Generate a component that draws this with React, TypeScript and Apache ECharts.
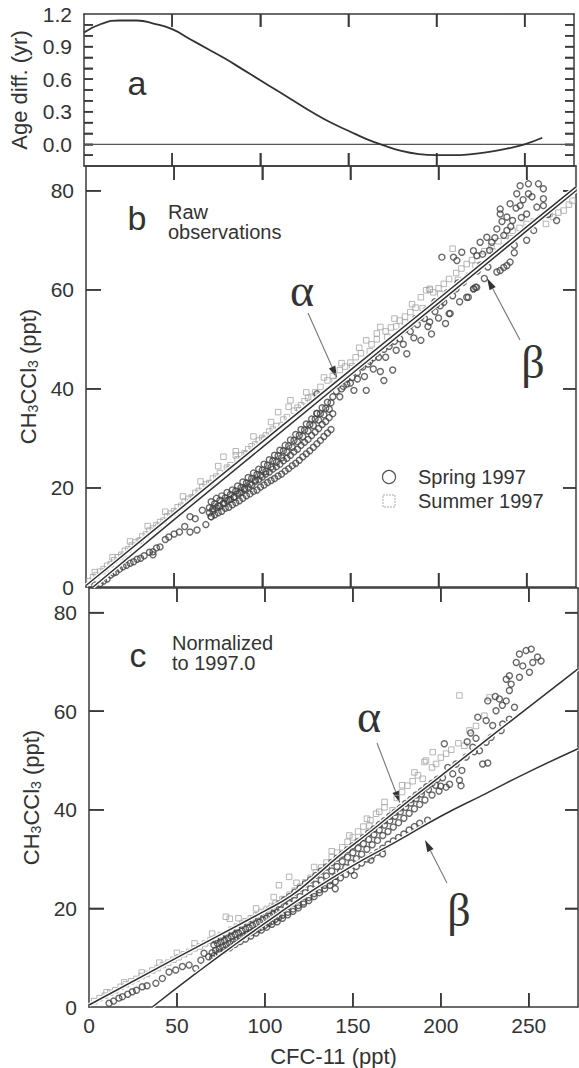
import React, { useEffect, useRef } from "react";
import * as echarts from "echarts";

// ---------- DATA ----------
// Panel a: age difference curve (x = CFC-11 ppt, y = years)
const ageCurve: number[][] = [
  [0, 1.03], [10, 1.11], [20, 1.14], [30, 1.14], [40, 1.11], [50, 1.06], [60, 0.97],
  [70, 0.88], [80, 0.79], [90, 0.69], [100, 0.59], [110, 0.49], [120, 0.39], [130, 0.29],
  [140, 0.2], [150, 0.125], [160, 0.05], [170, -0.01], [180, -0.06], [190, -0.09],
  [200, -0.1], [210, -0.1], [220, -0.09], [230, -0.07], [240, -0.04], [250, 0.0], [260, 0.06],
];
const zeroLine: number[][] = [[0, 0], [278, 0]];

// Panel b: raw observations
const summerB: number[][] = [
  [2, 1.2], [4, 2.0], [6, 2.4], [8, 3.1], [10, 3.6], [12, 4.3], [14, 4.6], [16, 5.4], [18, 6.0], [20, 6.5],
  [22, 7.3], [24, 7.6], [26, 8.4], [28, 9.0], [30, 9.3], [32, 10.2], [34, 10.6], [36, 11.4], [38, 11.8],
  [40, 12.5], [42, 13.1], [44, 13.4], [46, 14.3], [48, 14.8], [50, 15.3], [52, 16.1], [54, 16.4], [56, 17.2],
  [58, 17.8], [60, 18.1], [62, 19.0], [64, 19.4], [66, 20.2], [68, 20.7], [70, 21.0], [72, 21.9], [74, 22.3],
  [76, 23.0], [78, 26.3], [80, 24.1], [82, 24.6], [85, 26.6], [86, 25.8], [88, 26.6], [90, 27.0], [92, 27.8],
  [94, 28.4], [96, 28.8], [98, 29.6], [100, 30.1], [102, 30.6], [104, 31.4], [106, 31.8], [108, 32.5],
  [109, 35.3], [112, 33.8], [114, 34.3], [116, 37.7], [118, 35.6], [120, 36.2], [122, 36.7], [124, 37.5],
  [126, 38.2], [128, 38.4], [130, 39.3], [133, 40.4], [137, 41.7], [140, 42.6], [144, 43.8], [147, 44.5],
  [150, 45.3], [153, 46.4], [156, 47.2], [159, 49.8], [162, 49.0], [165, 50.0], [167, 52.5], [170, 51.6],
  [173, 52.4], [176, 52.6], [178, 53.8], [181, 54.6], [184, 55.5], [187, 56.4], [190, 58.5], [193, 59.9],
  [195, 60.2], [197, 59.5], [200, 60.3], [203, 61.2], [206, 62.2], [208, 68.3], [210, 63.4], [213, 64.3],
  [216, 65.2], [219, 66.0], [222, 66.9], [226, 67.8], [230, 68.8], [234, 69.8], [238, 70.9], [242, 71.9],
  [246, 72.5], [250, 73.3], [254, 73.8], [258, 74.6], [261, 73.3], [263, 75.3], [265, 74.7], [268, 75.6],
  [271, 76.0], [274, 77.2], [276, 78.0],
  [11, 3.2], [21, 6.2], [31, 9.4], [41, 12.2], [51, 15.0], [61, 17.9], [71, 20.9], [81, 23.8], [91, 26.8],
  [101, 29.8], [111, 32.6], [121, 35.7], [131, 38.6], [141, 41.6], [151, 44.6], [161, 47.6], [171, 50.5],
  [181, 53.4], [191, 56.3], [201, 59.2], [211, 62.0], [221, 64.9], [231, 67.7], [241, 70.4], [251, 72.6],
  [5, 3.0], [15, 6.0], [25, 9.2], [35, 12.3], [45, 15.2], [55, 18.3], [65, 21.3], [75, 24.4], [85, 27.4],
  [95, 30.4], [105, 33.3], [115, 36.4], [125, 39.3], [135, 42.3], [145, 45.2], [155, 48.3], [165, 51.2],
  [175, 54.2], [185, 57.1], [195, 60.0],
];
const springB: number[][] = [
  [5, 0.4], [8, 0.7], [10, 1.2], [12, 1.6], [14, 2.4], [15.5, 2.8], [17, 3.0], [19, 3.6], [21, 4.1], [23, 4.4],
  [25, 4.8], [27, 5.1], [29, 5.6], [31, 5.8], [33, 6.3], [36, 7.0], [38, 6.5], [38, 7.1], [40, 7.9], [42, 8.1],
  [45, 9.6], [47, 10.1], [50, 10.7], [53, 11.1], [56, 12.2], [59, 11.1], [59, 14.2], [62, 13.8], [63, 11.5],
  [66, 15.5], [68, 12.6], [71, 14.2],
  [70, 16.0], [71, 17.2], [72, 15.8], [73, 16.8], [74, 17.9], [75, 16.4], [76, 17.5], [77, 18.4], [78, 16.9],
  [79, 18.0], [80, 19.1], [81, 17.6], [82, 18.7], [83, 19.6], [84, 18.2], [85, 19.4], [86, 20.4], [87, 19.0],
  [88, 20.1], [89, 21.2], [90, 19.9], [91, 21.0], [92, 22.1], [93, 20.8], [94, 21.9], [95, 23.0], [96, 21.6],
  [97, 22.7], [98, 23.8], [99, 22.5], [100, 23.6], [101, 24.8], [102, 23.3], [103, 24.6], [104, 25.7],
  [105, 24.2], [106, 25.5], [107, 26.6], [108, 25.2], [109, 26.5], [110, 27.6], [111, 26.1], [112, 27.5],
  [113, 28.6], [114, 27.2], [115, 28.5], [116, 29.7], [117, 28.2], [118, 29.6], [119, 30.8], [120, 29.3],
  [121, 30.6], [122, 31.8], [123, 30.4], [124, 31.7], [125, 32.9], [126, 31.5], [127, 32.8], [128, 33.9],
  [129, 32.6], [130, 33.9], [131, 35.1], [132, 33.7], [133, 35.0], [134, 36.2], [135, 34.8], [136, 36.1],
  [137, 37.3], [138, 35.9], [139, 37.2], [140, 38.4],
  [70, 15.0], [72, 15.4], [74, 16.0], [76, 16.3], [78, 16.8], [80, 17.4], [82, 17.7], [84, 18.1], [86, 18.8],
  [88, 19.2], [90, 19.7], [92, 20.2], [94, 20.6], [96, 21.3], [98, 21.7], [100, 22.2], [102, 22.8], [104, 23.2],
  [106, 23.8], [108, 24.3], [110, 24.8], [112, 25.5], [114, 26.0], [116, 26.6], [118, 27.3], [120, 27.8],
  [122, 28.6], [124, 29.2], [126, 29.8], [128, 30.6], [130, 31.3], [132, 32.0], [134, 32.8], [136, 33.4],
  [138, 34.2], [140, 35.0],
  [71, 14.2], [73, 14.6], [75, 15.0], [77, 15.3], [79, 15.9], [81, 16.1], [83, 16.6], [85, 17.0], [87, 17.4],
  [89, 17.9], [91, 18.4], [93, 18.8], [95, 19.3], [97, 19.6], [99, 20.2], [101, 20.6], [103, 21.1], [105, 21.5],
  [107, 21.9], [109, 22.4], [111, 22.8], [113, 23.4], [115, 23.9], [117, 24.5], [119, 25.0], [121, 25.6],
  [123, 26.3], [125, 26.9], [127, 27.5], [129, 28.2], [131, 28.9], [133, 29.6], [135, 30.4], [137, 31.1],
  [139, 31.8],
  [142, 39.5], [145, 40.0], [148, 41.0], [151, 42.3], [154, 42.0], [157, 44.4], [160, 45.0], [163, 46.3],
  [166, 46.4], [169, 48.0], [172, 49.3], [175, 49.6], [178, 51.3], [181, 52.0], [184, 52.9], [187, 54.2],
  [190, 54.5], [193, 55.9], [196, 56.3], [199, 57.1], [202, 58.0], [205, 59.4], [208, 60.0], [211, 61.4],
  [131, 35], [131, 39], [144, 38.4], [146, 40.5], [148, 42.0], [150, 41.2], [152, 39.7], [154, 43.3],
  [156, 44.6], [158, 42.5], [159, 39.7], [161, 45.6], [163, 44.0], [165, 47.2], [167, 43.5], [169, 41.7],
  [170, 46.4], [172, 48.6], [174, 43.8], [176, 47.8], [178, 50.1], [180, 49.0], [182, 47.1], [184, 51.6],
  [186, 50.3], [188, 53.0], [190, 49.8], [192, 54.2], [194, 52.6], [196, 51.1], [198, 55.6], [200, 54.3],
  [201, 56.8], [203, 57.5], [204, 53.2], [206, 55.2], [208, 58.8], [210, 60.2], [212, 57.6], [214, 61.5],
  [216, 58.5], [217, 62.8], [220, 60.2], [221, 60.5], [222, 63.8], [224, 65.0], [226, 62.3], [228, 64.6],
  [201.9, 66.6], [208.5, 66.6], [210.4, 65.9], [213.2, 67.6], [219.8, 67.9], [221.7, 66.9], [223.6, 69.6],
  [227.4, 70.6], [230.2, 69.6], [233.1, 72.3], [235, 76.3], [235, 75.3], [238.8, 74.7], [238.8, 72],
  [240.6, 77.4], [244.4, 79.4], [246.3, 77], [246.3, 81], [250, 75.3], [250, 70], [251, 79.4], [251, 81.4],
  [255.8, 76.7], [256.7, 81.4], [259.5, 80.4], [259.5, 77], [259.5, 78.4], [242, 74.0], [237, 71.0],
  [244, 76.5], [248, 78.2], [253, 78.8], [232, 70.5], [229, 68.0], [225, 67.2], [236, 73.8], [241, 72.8],
  [247, 74.6], [243, 69.0],
  [233.1, 63.6], [235, 63.9], [238.8, 64.9], [240.6, 65.6], [237, 64.5], [221.7, 60.5], [219.8, 60.2],
  [216.9, 58.5], [206.6, 55.2], [195, 53.5], [198, 57.6], [243, 67.5], [254, 72.0], [262, 75.2], [267, 74.0],
];
const alphaB: number[][] = [[0, 0.3], [50, 14.8], [100, 29.3], [150, 43.8], [200, 58.2], [250, 72.7], [278, 80.8]];
const betaB: number[][] = [[4, 0], [50, 13.6], [100, 28.2], [150, 42.8], [200, 57.3], [250, 71.9], [278, 80.0]];

// Panel c: normalized to 1997.0
const summerC: number[][] = [
  [3, 1.2], [6, 1.8], [9, 2.3], [12, 2.9], [15, 3.4], [18, 4.1], [21, 4.6], [24, 5.2], [27, 5.7], [30, 6.3],
  [33, 6.7], [36, 7.4], [39, 7.9], [42, 8.5], [45, 9.0], [48, 9.6], [51, 10.1], [54, 10.7], [57, 11.2],
  [60, 11.9], [63, 12.3], [66, 12.9], [69, 13.5], [72, 14.0], [75, 14.6], [77.8, 18.3], [80, 17.9], [81, 15.7],
  [84, 16.3], [87, 16.9], [89, 17.4], [92, 18.0], [95, 18.6], [98, 19.3], [101, 19.9], [104, 20.5], [106, 21.0],
  [108, 24.7], [110, 21.9], [113.8, 26.4], [114, 22.8], [117, 23.6], [120, 24.4], [123, 25.3], [126, 26.2],
  [129, 27.3], [132, 28.3], [135, 29.3], [138, 30.4], [141, 31.3], [144, 32.4], [147, 33.5], [150, 34.4],
  [153, 35.6], [156, 36.6], [159.4, 36.8], [160, 37.9], [163.2, 39.2], [165, 39.6], [168, 40.5], [172.6, 39.9],
  [175, 42.4], [178, 43.6], [181, 44.9], [184, 45.8], [187, 47.0], [189.7, 46.3], [190.7, 49.7], [191.6, 50],
  [195.4, 51.7], [197.3, 49.3], [195, 48.6], [200, 50.6], [203, 51.4], [206, 52.2], [210, 53.5], [213.4, 53],
  [216.3, 56.1], [220, 57.0], [224.8, 59.1], [227.7, 62.8], [210.6, 63.2],
  [10, 3.0], [20, 5.0], [30, 7.0], [40, 9.0], [50, 11.0], [60, 12.9], [70, 14.9], [85, 18.0], [95, 20.0],
  [105, 22.3], [118, 25.2], [128, 28.4], [138, 31.6], [148, 34.8], [158, 38.2], [168, 41.6], [178, 45.0],
  [185, 47.6],
];
const springC: number[][] = [
  [11.4, 0.75], [14, 1.2], [17, 1.8], [19, 2.1], [22, 2.6], [24.6, 3.1], [27, 3.4], [30.3, 4.1], [33, 4.3],
  [38, 4.8], [41.7, 5.8], [45.5, 7.1], [49.3, 7.5], [53.1, 8.2], [56.9, 8.5], [60.7, 7.8], [63.6, 9.5],
  [65.4, 10.9], [68, 10.2], [70.2, 9.9],
  [70, 11.0], [71, 12.6], [72, 11.5], [73, 12.9], [74, 11.8], [75, 13.2], [76, 12.2], [77, 13.5], [78, 12.6],
  [79, 14.0], [80, 12.9], [81, 14.3], [82, 13.3], [83, 14.7], [84, 13.6], [85, 15.0], [86, 14.1], [87, 15.4],
  [88, 14.4], [89, 15.8], [90, 14.8], [91, 16.1], [92, 15.1], [93, 16.5], [94, 15.5], [95, 16.9], [96, 15.8],
  [97, 17.2], [98, 16.2], [99, 17.6], [100, 16.6], [101, 18.0], [102, 17.0], [103, 18.4], [104, 17.4],
  [105, 18.8], [106, 17.8], [107, 19.2], [108, 18.2], [109, 19.7], [110, 18.6], [112, 20.4], [113, 19.2],
  [114, 21.0], [116, 19.9], [117, 21.6], [119, 20.6], [120, 22.4], [122, 21.3], [123, 23.2], [125, 22.2],
  [126, 24.0], [128, 23.0], [129, 24.9], [131, 23.8], [132, 25.7], [134, 24.7], [135, 26.6], [137, 25.6],
  [138, 27.6], [140, 24.0], [140, 26.5], [141, 28.5], [143, 27.4], [144, 29.5], [146, 28.3], [147, 30.4],
  [149, 29.2], [150.8, 26.7], [150, 31.3], [152, 30.1], [153, 32.2], [155, 31.0], [156, 33.1], [158, 32.0],
  [159, 34.0], [160.3, 29.8], [161, 32.9], [162, 35.0], [164, 33.8], [165, 35.9], [166.9, 31.1], [167, 34.8],
  [168, 36.9], [170, 35.6], [171, 37.8], [173, 36.5], [174, 38.7], [176, 37.4], [177, 39.6], [179, 38.3],
  [180, 40.5], [182, 39.3], [183, 41.4], [185, 40.2], [186, 42.3], [188, 41.1], [189, 43.2], [191, 42.0],
  [192.5, 37.9], [193, 44.1], [195, 43.0], [197, 45.0], [199, 43.8],
  [71, 10.4], [74, 11.0], [77, 11.5], [80, 12.0], [83, 12.7], [86, 13.3], [89, 13.8], [92, 14.4], [95, 15.0],
  [98, 15.6], [101, 16.2], [104, 16.8], [107, 17.3], [110, 18.0], [113, 18.7], [116, 19.4], [119, 20.1],
  [122, 20.9], [125, 21.6], [128, 22.4], [131, 23.2], [134, 24.0], [137, 24.7], [140, 25.4], [143, 26.2],
  [146, 26.9], [149, 27.7], [152, 28.5], [155, 29.2], [158, 30.0], [161, 30.7], [164, 31.4], [167, 32.2],
  [170, 33.0], [173, 33.7], [176, 34.4], [179, 35.1], [182, 35.9], [185, 36.6], [188, 37.3],
  [72, 13.6], [75, 14.2], [78, 14.8], [81, 15.4], [84, 16.0], [87, 16.6], [90, 17.2], [93, 17.8], [96, 18.4],
  [99, 19.0], [102, 19.6], [105, 20.2], [108, 20.9], [111, 21.7], [114, 22.4], [117, 23.3], [120, 24.1],
  [123, 25.0], [126, 25.8], [129, 26.7], [132, 27.6], [135, 28.4], [138, 29.3], [141, 30.2], [144, 31.0],
  [147, 31.9], [150, 32.7], [153, 33.6], [156, 34.4], [159, 35.3], [162, 36.1], [165, 37.0], [168, 37.8],
  [171, 38.7], [174, 39.5], [177, 40.4], [180, 41.3], [183, 42.1], [186, 43.0], [189, 43.8], [192, 44.7],
  [195, 45.4], [198, 46.2],
  [248.5, 72.3], [251.4, 72.6], [244.7, 71.6], [242.9, 69.9], [246.6, 69.2], [252.3, 69.9], [257, 70.2],
  [255, 71.0], [250.4, 67.9], [244.7, 66.9], [239, 67.2], [237.2, 66.5], [240, 65.5], [239, 64.2],
  [233.3, 62.5], [231, 63.0], [237.2, 62.1], [241.9, 60.8], [235, 61.2], [226.7, 62.1], [231.4, 60.1],
  [221, 58.8], [225.8, 58.1], [229.5, 57.1], [235.2, 57.4], [239, 58.4], [234.3, 56.1], [228.6, 54.7],
  [225.8, 53.7], [202, 53.4], [223.8, 49.3], [226.7, 49.5], [222, 52], [218.2, 52.7], [214.4, 50.7],
  [219, 51.8], [220, 54.5], [210.6, 46], [211.5, 44.9], [206.8, 47.3], [203, 44.6], [208.7, 49.3],
  [201, 46.5], [204, 48.6], [212, 48.0], [215, 53.8], [217, 55.6], [205, 45.2], [200, 44.8],
];
const alphaC: number[][] = [
  [0, 0.4], [50, 10.0], [100, 19.5], [115, 22.6], [128, 26.3], [142, 30.6], [160, 35.6], [176, 40.2],
  [199, 46.6], [230, 55.3], [278, 68.6],
];
const betaC: number[][] = [
  [36, 0], [60, 6.6], [80, 11.9], [108, 19], [130, 24.3], [150, 28.7], [175, 33.6], [200, 38.7],
  [225, 43.2], [250, 47.7], [278, 52.4],
];

// Axis ranges, ticks and labels
const xRange = [0, 278];
const xTicks = [50, 100, 150, 200, 250];
const xLabels = [0, 50, 100, 150, 200, 250];
const ageRange = [-0.2, 1.2];
const ageTicks = [-0.1, 0, 0.1, 0.2, 0.3, 0.4, 0.5, 0.6, 0.7, 0.8, 0.9, 1.0, 1.1];
const ageLabels = [0, 0.3, 0.6, 0.9, 1.2];
const ppRange = [0, 85];
const ppTicks = [20, 40, 60, 80];
const ppLabels = [0, 20, 40, 60, 80];

// ---------- STYLE ----------
const FONT = "Liberation Sans";
const SERIF = "Liberation Serif";
const INK = "#333";
const AXIS = "#3a3a3a";

export default function App() {
  const ref = useRef<HTMLDivElement>(null);
  useEffect(() => {
    document.body.style.margin = "0";
    const chart = echarts.init(ref.current!, null, { renderer: "svg" });

    const grids = [
      { left: 84, top: 14, width: 490, height: 152 },
      { left: 86, top: 166, width: 490, height: 421 },
      { left: 89, top: 588, width: 489, height: 419 },
    ];
    const tickSpec = [
      { yTicks: ageTicks, yr: ageRange, xLen: 13, yL: 9, yR: 9 },
      { yTicks: ppTicks, yr: ppRange, xLen: 14, yL: 15, yR: 13 },
      { yTicks: ppTicks, yr: ppRange, xLen: 14, yL: 15, yR: 13 },
    ];

    const xAxis: any[] = [];
    const yAxis: any[] = [];
    grids.forEach((g, gi) => {
      const isLast = gi === 2;
      const s = tickSpec[gi];
      ["bottom", "top"].forEach((pos) => {
        const main = pos === "bottom";
        xAxis.push({
          type: "value", gridIndex: gi, position: pos, min: xRange[0], max: xRange[1],
          axisLine: { show: true, onZero: false, lineStyle: { color: AXIS, width: 1.5 } },
          axisTick: {
            show: true, inside: true, length: s.xLen, customValues: xTicks,
            lineStyle: { color: AXIS, width: 1.5 },
          },
          axisLabel: {
            show: main && isLast, margin: 8, customValues: xLabels,
            fontFamily: FONT, fontSize: 21, color: INK,
          },
          splitLine: { show: false },
          name: main && isLast ? "CFC-11 (ppt)" : "",
          nameLocation: "middle", nameGap: 38,
          nameTextStyle: { fontFamily: FONT, fontSize: 22, color: INK },
        });
      });
      const isAge = gi === 0;
      const yName = isAge ? "Age diff. (yr)" : "{m|CH}{s|3}{m|CCl}{s|3}{m| (ppt)}";
      ["left", "right"].forEach((pos) => {
        const main = pos === "left";
        yAxis.push({
          type: "value", gridIndex: gi, position: pos,
          min: s.yr[0], max: s.yr[1],
          axisLine: { show: true, onZero: false, lineStyle: { color: AXIS, width: 1.5 } },
          axisTick: {
            show: true, inside: true, length: main ? s.yL : s.yR, customValues: s.yTicks,
            lineStyle: { color: AXIS, width: 1.5 },
          },
          axisLabel: {
            show: main, margin: 12, customValues: isAge ? ageLabels : ppLabels,
            fontFamily: FONT, fontSize: 21, color: INK,
            formatter: (v: number) => (isAge ? v.toFixed(1) : String(Math.round(v))),
          },
          splitLine: { show: false },
          name: main ? yName : "", nameLocation: "middle", nameRotate: 90,
          nameGap: isAge ? 54 : 42,
          nameTextStyle: {
            fontFamily: FONT, fontSize: 22, color: INK,
            rich: {
              m: { fontFamily: FONT, fontSize: 22, color: INK, lineHeight: 22 },
              s: { fontFamily: FONT, fontSize: 14, color: INK, lineHeight: 8, verticalAlign: "bottom" },
            },
          },
        });
      });
    });

    const squares = (data: number[][], xi: number, yi: number) => ({
      type: "scatter", xAxisIndex: xi, yAxisIndex: yi, data, symbol: "rect", symbolSize: 5.5,
      itemStyle: { color: "rgba(255,255,255,0)", borderColor: "#a4a4a4", borderWidth: 1 },
      silent: true,
    });
    const circles = (data: number[][], xi: number, yi: number) => ({
      type: "scatter", xAxisIndex: xi, yAxisIndex: yi, data, symbol: "circle", symbolSize: 6,
      itemStyle: { color: "rgba(255,255,255,0)", borderColor: "#424242", borderWidth: 1.4 },
      silent: true,
    });
    const fitLine = (data: number[][], xi: number, yi: number, smooth: boolean) => [
      {
        type: "line", xAxisIndex: xi, yAxisIndex: yi, data, showSymbol: false, smooth,
        lineStyle: { color: "#ffffff", width: 4 }, silent: true,
      },
      {
        type: "line", xAxisIndex: xi, yAxisIndex: yi, data, showSymbol: false, smooth,
        lineStyle: { color: "#333", width: 1.5 }, silent: true,
      },
    ];

    const series: any[] = [
      { type: "line", xAxisIndex: 0, yAxisIndex: 0, data: zeroLine, showSymbol: false,
        lineStyle: { color: "#555", width: 1.3 }, silent: true },
      { type: "line", xAxisIndex: 0, yAxisIndex: 0, data: ageCurve, showSymbol: false, smooth: true,
        lineStyle: { color: "#333", width: 1.8 }, silent: true },
      squares(summerB, 2, 2),
      circles(springB, 2, 2),
      ...fitLine(alphaB, 2, 2, false),
      ...fitLine(betaB, 2, 2, false),
      squares(summerC, 4, 4),
      circles(springC, 4, 4),
      ...fitLine(alphaC, 4, 4, true),
      ...fitLine(betaC, 4, 4, true),
    ];

    const arrow = (x1: number, y1: number, x2: number, y2: number) => {
      const dx = x2 - x1, dy = y2 - y1;
      const len = Math.sqrt(dx * dx + dy * dy);
      const ux = dx / len, uy = dy / len;
      const hl = 12, hw = 3.5;
      const bx = x2 - ux * hl, by = y2 - uy * hl;
      return [
        { type: "line", shape: { x1, y1, x2: bx, y2: by }, style: { stroke: "#777", lineWidth: 1.1 }, silent: true },
        {
          type: "polygon",
          shape: { points: [[x2, y2], [bx - uy * hw, by + ux * hw], [bx + uy * hw, by - ux * hw]] },
          style: { fill: "#333" }, silent: true,
        },
      ];
    };
    const txt = (text: string, x: number, y: number, size: number, align = "left", family = FONT) => ({
      type: "text", x, y, silent: true,
      style: { text, font: `${size}px "${family}"`, fill: INK, textAlign: align, textVerticalAlign: "middle" },
    });

    // Tick marks on all four sides of each panel (linear map of each grid's axis range)
    const tickEls: any[] = [];
    grids.forEach((g, gi) => {
      const s = tickSpec[gi];
      const px = (v: number) => g.left + ((v - xRange[0]) / (xRange[1] - xRange[0])) * g.width;
      const py = (v: number) => g.top + g.height - ((v - s.yr[0]) / (s.yr[1] - s.yr[0])) * g.height;
      const seg = (x1: number, y1: number, x2: number, y2: number) => ({
        type: "polyline", silent: true, shape: { points: [[x1, y1], [x2, y2]] },
        style: { stroke: AXIS, lineWidth: 1.5, fill: "none" },
      });
      xTicks.forEach((v) => {
        const x = px(v);
        tickEls.push(seg(x, g.top + g.height, x, g.top + g.height - s.xLen));
        tickEls.push(seg(x, g.top, x, g.top + s.xLen));
      });
      s.yTicks.forEach((v) => {
        const y = py(v);
        tickEls.push(seg(g.left, y, g.left + s.yL, y));
        tickEls.push(seg(g.left + g.width, y, g.left + g.width - s.yR, y));
      });
    });

    const graphic: any[] = [
      ...tickEls,
      txt("a", 137, 83, 34, "center"),
      txt("b", 137, 218, 34, "center"),
      txt("Raw", 168, 212, 20),
      txt("observations", 168, 232, 20),
      txt("c", 138, 655, 34, "center"),
      txt("Normalized", 172, 643, 20),
      txt("to 1997.0", 172, 663, 20),
      txt("α", 302, 290, 46, "center", SERIF),
      txt("β", 533, 362, 46, "center", SERIF),
      txt("α", 369, 716, 46, "center", SERIF),
      txt("β", 459, 910, 46, "center", SERIF),
      ...arrow(308, 313, 337, 378),
      ...arrow(520, 340, 487, 278),
      ...arrow(377, 743, 400, 803),
      ...arrow(447, 883, 425, 840),
      { type: "circle", shape: { cx: 389, cy: 477, r: 6.5 }, style: { fill: "none", stroke: "#555", lineWidth: 1.2 }, silent: true },
      txt("Spring 1997", 418, 477, 20),
      { type: "rect", shape: { x: 383, y: 495, width: 12, height: 12 }, style: { fill: "none", stroke: "#aaa", lineWidth: 1, lineDash: [2, 1] }, silent: true },
      txt("Summer 1997", 418, 501, 20),
    ];

    chart.setOption({
      animation: false,
      backgroundColor: "#ffffff",
      grid: grids.map((g) => ({ ...g, containLabel: false })),
      xAxis,
      yAxis,
      series,
      graphic,
    });

    return () => chart.dispose();
  }, []);
  return <div ref={ref} style={{ width: 579, height: 1068 }} />;
}
